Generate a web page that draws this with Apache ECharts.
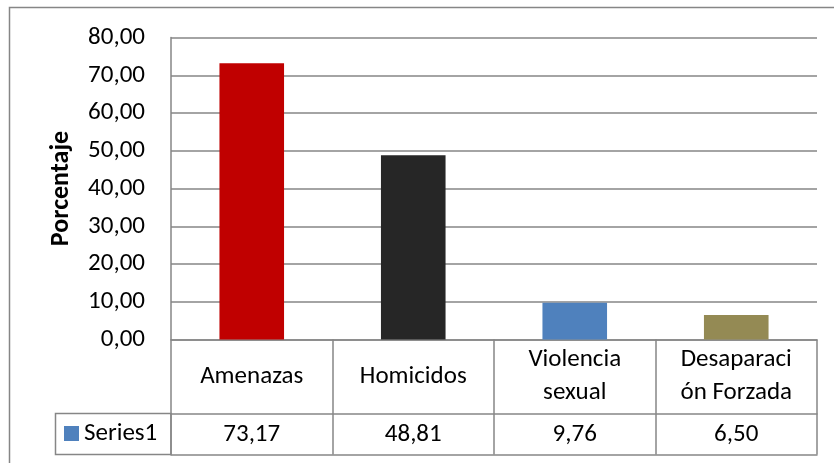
<!DOCTYPE html>
<html>
<head>
<meta charset="utf-8">
<script src="https://cdn.jsdelivr.net/npm/echarts@6/dist/echarts.min.js"></script>
<style>
  html, body { margin: 0; padding: 0; background: #ffffff; }
  #chart { width: 834px; height: 463px; }
</style>
</head>
<body>
<div id="chart"></div>
<script>
// datos del gráfico
const categories = ['Amenazas', 'Homicidos', 'Violencia\nsexual', 'Desaparaci\nón Forzada'];
const values = [73.17, 48.81, 9.76, 6.50];
const barColors = ['#C00000', '#262626', '#4F81BD', '#948A54'];
const yTicks = [0, 10, 20, 30, 40, 50, 60, 70, 80];
const seriesName = 'Series1';

const FONT = 'Carlito, Lato, sans-serif';
const LINE = '#868686';
const FS = 25;

function fmt(v) {
  return v.toFixed(2).replace('.', ',');
}

let chart = echarts.init(document.getElementById('chart'));

let option = {
  animation: false,
  backgroundColor: '#ffffff',
  textStyle: { fontFamily: FONT, color: '#000' },
  grid: { left: 171, right: 17, top: 37.5, bottom: 123.5 },
  legend: {
    data: [seriesName],
    left: 64,
    top: 421,
    padding: 0,
    itemWidth: 15,
    itemHeight: 15,
    itemGap: 7,
    icon: 'rect',
    textStyle: { fontFamily: FONT, fontSize: FS, color: '#000', lineHeight: 25 },
    selectedMode: false
  },
  xAxis: [
    {
      type: 'category',
      data: categories,
      position: 'bottom',
      axisLine: { show: true, lineStyle: { color: LINE, width: 1.5 } },
      axisTick: { show: true, length: 115, interval: 0, lineStyle: { color: LINE, width: 1.5 } },
      axisLabel: {
        interval: 0,
        margin: 37,
        verticalAlign: 'middle',
        fontFamily: FONT,
        fontSize: FS,
        lineHeight: 33,
        color: '#000'
      }
    },
    {
      type: 'category',
      data: categories,
      position: 'bottom',
      offset: 74,
      axisLine: { show: true, lineStyle: { color: LINE, width: 1.5 } },
      axisTick: { show: false },
      axisLabel: {
        interval: 0,
        margin: 21,
        verticalAlign: 'middle',
        fontFamily: FONT,
        fontSize: FS,
        color: '#000',
        formatter: function (v, i) { return fmt(values[i]); }
      }
    },
    {
      type: 'category',
      data: categories,
      position: 'bottom',
      offset: 115,
      axisLine: { show: true, lineStyle: { color: LINE, width: 1.5 } },
      axisTick: { show: false },
      axisLabel: { show: false }
    }
  ],
  yAxis: {
    type: 'value',
    min: yTicks[0],
    max: yTicks[yTicks.length - 1],
    interval: 10,
    name: 'Porcentaje',
    nameLocation: 'middle',
    nameRotate: 90,
    nameGap: 97,
    nameTextStyle: { fontFamily: FONT, fontSize: 26, fontWeight: 'bold', color: '#000' },
    axisLine: { show: true, lineStyle: { color: LINE, width: 1.5 } },
    axisTick: { show: false },
    splitLine: { show: true, lineStyle: { color: LINE, width: 1.5 } },
    axisLabel: {
      margin: 26,
      fontFamily: FONT,
      fontSize: FS,
      color: '#000',
      formatter: function (v) { return fmt(v); }
    }
  },
  series: [
    {
      name: seriesName,
      type: 'bar',
      xAxisIndex: 0,
      barWidth: '40%',
      itemStyle: { color: '#4F81BD' },
      data: values.map(function (v, i) {
        return { value: v, itemStyle: { color: barColors[i] } };
      })
    }
  ],
  graphic: [
    {
      // borde exterior del gráfico
      type: 'rect',
      shape: { x: 9.5, y: 7.5, width: 840, height: 470 },
      style: { fill: 'none', stroke: LINE, lineWidth: 1.5 },
      silent: true
    },
    {
      // celda de la leyenda en la tabla
      type: 'rect',
      shape: { x: 55.5, y: 413.5, width: 115.5, height: 41 },
      style: { fill: 'none', stroke: LINE, lineWidth: 1.5 },
      silent: true
    }
  ]
};

chart.setOption(option);
</script>
</body>
</html>
